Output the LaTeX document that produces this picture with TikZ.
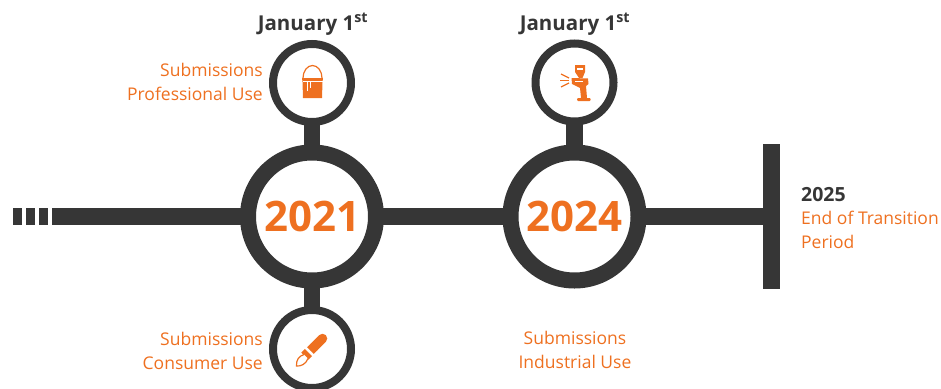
\documentclass[tikz,border=0pt]{standalone}
\usepackage{fontspec}
\setmainfont{Open Sans}
\definecolor{bardark}{HTML}{363636}
\definecolor{iconorange}{HTML}{EE7020}
\tikzset{
	bigring/.style={circle,draw=bardark,line width=16pt,minimum size=128pt,inner sep=0pt,text=iconorange,font=\bfseries\fontsize{42}{42}\selectfont},
	smallring/.style={circle,draw=bardark,line width=8pt,minimum size=78pt,inner sep=0pt},
	bar/.style={draw=bardark,line width=17pt,shorten <=-2pt,shorten >=-2pt},
	stem/.style={draw=bardark,line width=16.5pt,shorten <=-2pt,shorten >=-2pt},
	note/.style={text=iconorange,font=\fontsize{17.5}{24}\selectfont,inner sep=0pt},
	datelabel/.style={text=bardark,font=\bfseries\fontsize{20.5}{24}\selectfont,inner sep=0pt}
}
\begin{document}
\begin{tikzpicture}[x=1pt,y=-1pt]
	\useasboundingbox (0,0) rectangle (941,388);
	
	%END BAR
	\coordinate (endtop) at (771.5,144);
	\coordinate (endbot) at (771.5,289);
	\coordinate (endmid) at (771.5,216.5);
	\coordinate (linestart) at (54,216.5);
	\draw[draw=bardark,line width=17pt] (endtop)--(endbot);
	
	%RINGS
	\node[bigring] (y2021) at (312,216.5) {2021};
	\node[bigring] (y2024) at (574.5,216.5) {2024};
	\node[smallring] (bucket) at (312,83) {};
	\node[smallring] (gun) at (574.5,82.5) {};
	\node[smallring] (brush) at (312,349) {};
	
	%LINE
	\draw[bar] (linestart)--(y2021);
	\draw[bar] (y2021)--(y2024);
	\draw[bar] (y2024)--(endmid);
	\foreach \x in {13,26,39}
	\fill[bardark] (\x,208) rectangle (\x+9,225);
	
	%STEMS
	\draw[stem] (y2021)--(bucket);
	\draw[stem] (y2021)--(brush);
	\draw[stem] (y2024)--(gun);
	
	%BUCKET
	\draw[iconorange,line width=1.2pt] (303,78) arc (180:360:9.5 and 12.5);
	\fill[iconorange] (302,78) -- (323,78) -- (322.5,82) -- (322,98) -- (303,98) -- (302.5,82) -- cycle;
	\fill[white] (306.5,81) rectangle (307.7,91);
	\fill[white] (310,81) rectangle (311.2,88);
	\fill[white] (302.5,81) rectangle (322.5,81.7);
	
	%SPRAY GUN
	\fill[iconorange] (575,65) -- (585,65) -- (585,72) -- (582.5,78) -- (579,78) -- (575,72) -- cycle;
	\fill[white] (577,67.5) rectangle (583,70);
	\fill[iconorange] (571.5,78) -- (588,78.5) -- (588.5,84) -- (586,86) -- (587,98) -- (581,98) -- (580,88) -- (572,84) -- cycle;
	\fill[white] (575,80.5) rectangle (583,81.5);
	\fill[iconorange,rounded corners=1pt] (577,98) rectangle (590.5,101);
	\draw[iconorange,line width=1.2pt] (561,74) -- (569,78);
	\draw[iconorange,line width=1.2pt] (560,80.5) -- (569,80.5);
	\draw[iconorange,line width=1.2pt] (561,87) -- (569,83);
	
	%BRUSH
	\draw[iconorange,line width=9.5pt,line cap=round] (322.5,338.5)--(314,347);
	\draw[iconorange,line width=9.5pt] (314,347)--(310.5,350.5);
	\draw[iconorange,line width=10pt] (308.5,352.5)--(304.8,356.2);
	\draw[iconorange,line width=1.2pt,fill=white] (304,354.5) .. controls (299,356) and (296,360) .. (296.5,366) .. controls (301,366.5) and (306,364) .. (308,358.5);
	
	%LABELS
	\node[datelabel] (date21) at (313,24) {January 1\textsuperscript{st}};
	\node[datelabel] (date24) at (575,24) {January 1\textsuperscript{st}};
	\node[note,align=right,anchor=east] (pro) at (263,81.5) {Submissions\\Professional Use};
	\node[note,align=right,anchor=east] (con) at (263,350.5) {Submissions\\Consumer Use};
	\node[note,align=center] (ind) at (575,349.5) {Submissions\\Industrial Use};
	\node[note,anchor=west,text=bardark,font=\bfseries\fontsize{19.5}{24}\selectfont] (end25) at (801,194.5) {2025};
	\node[note,align=left,anchor=west] (endtxt) at (801,230) {End of Transition\\Period};
\end{tikzpicture}
\end{document}
